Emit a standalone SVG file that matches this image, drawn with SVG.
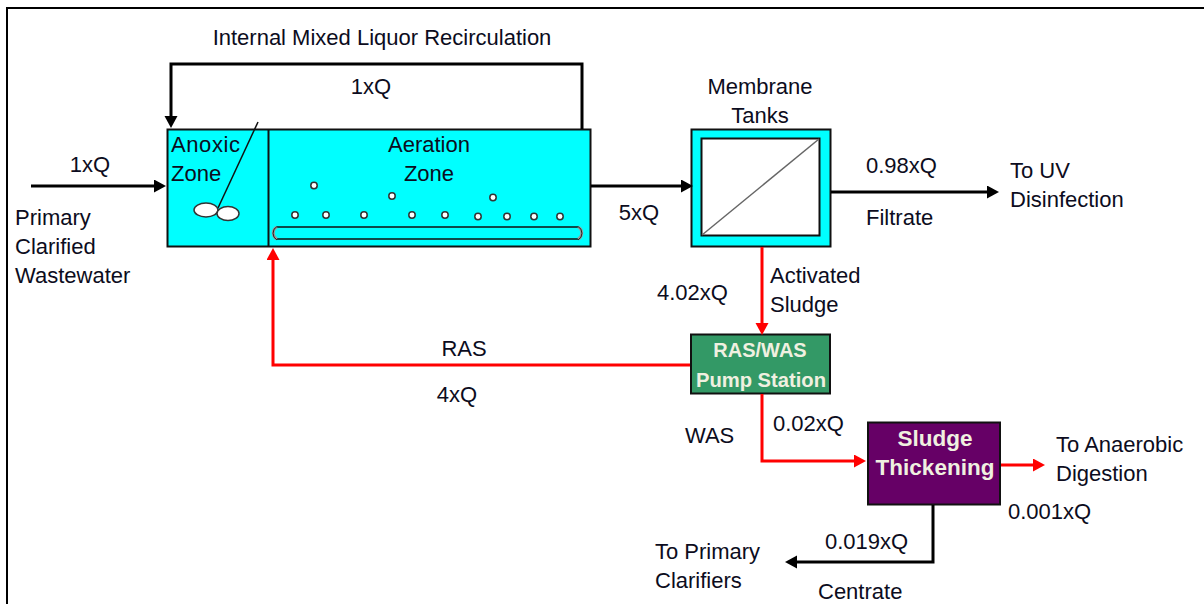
<svg xmlns="http://www.w3.org/2000/svg" width="1204" height="604" viewBox="0 0 1204 604">
<style>
text{font-family:"Liberation Sans",Arial,sans-serif;font-size:22px;fill:#0c0c20}
.m{text-anchor:middle}
.w{font-weight:bold;fill:#f0f0e0;text-anchor:middle}
.box{stroke:#111;stroke-width:2}
.k{fill:none;stroke:#000;stroke-width:3}
.r{fill:none;stroke:#f00;stroke-width:3}
.b{fill:#fff;stroke:#333;stroke-width:1.500}
</style>
<defs>
<marker id="ak" markerUnits="userSpaceOnUse" markerWidth="14" markerHeight="14" refX="6" refY="6.500" orient="auto"><path d="M0 0L12 6.500L0 13z" fill="#000"/></marker>
<marker id="ar" markerUnits="userSpaceOnUse" markerWidth="14" markerHeight="14" refX="6" refY="6.500" orient="auto"><path d="M0 0L12 6.500L0 13z" fill="#f00"/></marker>
</defs>
<rect width="1204" height="604" fill="#fff"/>
<path d="M7 604V8H1204" fill="none" stroke="#000" stroke-width="2"/>
<g id="aeration-tank">
<rect class="box" x="167.500" y="129.500" width="423" height="117" fill="#0ff"/>
<path d="M268.500 129.500V246.500" stroke="#111" stroke-width="2"/>
<path d="M258 122L218 208" stroke="#111" stroke-width="1.500"/>
<ellipse class="b" cx="206" cy="210" rx="12" ry="7"/>
<ellipse class="b" cx="228" cy="213.500" rx="11" ry="7"/>
<path d="M277 227H578M277 239H578" fill="none" stroke="#111" stroke-width="1.500"/>
<path d="M277 227A6 6.500 0 0 0 277 239M578 227A6 6.500 0 0 1 578 239" fill="none" stroke="#999" stroke-width="3"/>
<path d="M277 226.500A7 7.500 0 0 0 277 240M578 226.500A7 7.500 0 0 1 578 240" fill="none" stroke="#222" stroke-width="1"/>
<g class="b"><circle cx="314" cy="185.500" r="3.200"/><circle cx="392" cy="196" r="3.200"/><circle cx="493" cy="197.500" r="3.200"/><circle cx="295" cy="215" r="3.200"/><circle cx="326" cy="215" r="3.200"/><circle cx="364" cy="215" r="3.200"/><circle cx="412" cy="215" r="3.200"/><circle cx="445" cy="215" r="3.200"/><circle cx="478" cy="216.500" r="3.200"/><circle cx="507" cy="216.500" r="3.200"/><circle cx="534" cy="216.500" r="3.200"/><circle cx="560" cy="216.500" r="3.200"/></g>
<text x="171" y="152" textLength="69">Anoxic</text><text x="171" y="181">Zone</text>
<text class="m" x="429" y="152">Aeration</text><text class="m" x="429" y="181">Zone</text>
</g>
<g id="membrane-tanks">
<rect class="box" x="691.500" y="129.500" width="139" height="117" fill="#0ff"/>
<rect x="701.500" y="138.500" width="118" height="97" fill="#fff" stroke="#111" stroke-width="2"/>
<path d="M702 235L819 139" stroke="#666" stroke-width="1.500"/>
</g>
<g id="pump-station">
<rect class="box" x="691" y="334.500" width="139" height="59" fill="#339966"/>
<text class="w" x="760" y="357" style="font-size:20px">RAS/WAS</text><text class="w" x="761" y="387" style="font-size:20.200px">Pump Station</text>
</g>
<g id="sludge-thickening">
<rect class="box" x="868" y="422.500" width="132" height="82" fill="#660066"/>
<text class="w" x="935" y="446" style="font-size:22.500px">Sludge</text><text class="w" x="935" y="475" style="font-size:22.500px">Thickening</text>
</g>
<g id="connectors">
<path class="k" d="M582 129V64H171V122" marker-end="url(#ak)"/>
<path class="k" d="M31 186H160" marker-end="url(#ak)"/>
<path class="k" d="M591 186H687" marker-end="url(#ak)"/>
<path class="k" d="M831 192H993" marker-end="url(#ak)"/>
<path class="r" d="M762 247V329" marker-end="url(#ar)"/>
<path class="r" d="M690 365H273V254" marker-end="url(#ar)"/>
<path class="r" d="M762 394V461H860" marker-end="url(#ar)"/>
<path class="r" d="M1001 465H1039" marker-end="url(#ar)"/>
<path class="k" d="M933 505V562H791" marker-end="url(#ak)"/>
</g>
<g id="labels">
<text class="m" x="382" y="45">Internal Mixed Liquor Recirculation</text>
<text class="m" x="371" y="94">1xQ</text>
<text class="m" x="90" y="172">1xQ</text>
<text x="15" y="225">Primary</text><text x="15" y="254">Clarified</text><text x="15" y="283">Wastewater</text>
<text class="m" x="639" y="220">5xQ</text>
<text class="m" x="760" y="94">Membrane</text><text class="m" x="760" y="123">Tanks</text>
<text x="866" y="173">0.98xQ</text><text x="866" y="225">Filtrate</text>
<text x="1010" y="178">To UV</text><text x="1010" y="207">Disinfection</text>
<text x="770" y="283">Activated</text><text x="770" y="312">Sludge</text>
<text x="657" y="300">4.02xQ</text>
<text class="m" x="464" y="356">RAS</text><text class="m" x="457" y="402">4xQ</text>
<text x="685" y="443">WAS</text><text x="773" y="431">0.02xQ</text>
<text x="1056" y="452">To Anaerobic</text><text x="1056" y="481">Digestion</text>
<text x="1008" y="519">0.001xQ</text>
<text x="825" y="549">0.019xQ</text>
<text x="655" y="559">To Primary</text><text x="655" y="588">Clarifiers</text>
<text x="818" y="599">Centrate</text>
</g>
</svg>
